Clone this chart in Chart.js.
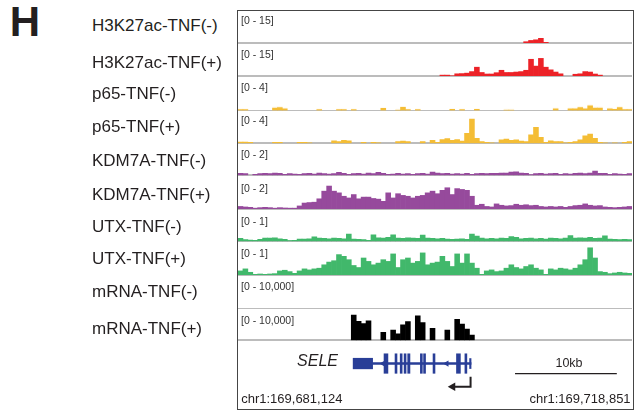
<!DOCTYPE html>
<html lang="en">
<head>
<meta charset="UTF-8">
<title>SELE locus tracks</title>
<script src="https://cdn.jsdelivr.net/npm/chart.js"></script>
<style>
  body { margin: 0; background: #fff; font-family: "Liberation Sans", Arial, Helvetica, sans-serif; }
  #fig { position: relative; width: 637px; height: 411px; overflow: hidden; }
  #fig div { position: absolute; white-space: nowrap; }
  .panel { left: 9.7px; top: -1.8px; font-size: 42px; line-height: 48px; font-weight: bold; color: #231f20; }
  .name { left: 92px; font-size: 17px; line-height: 20px; color: #231f20; }
  .box { left: 236.5px; top: 10.25px; width: 397px; height: 399.5px; box-sizing: border-box; border: 1.5px solid #454545; }
  .track { left: 238px; width: 394px; }
  .range { left: 241px; font-size: 10.5px; line-height: 12px; color: #333; }
  .gene { left: 238px; top: 342px; width: 394px; height: 66px; }
  .sele { right: 299px; top: 351.4px; font-size: 16px; line-height: 20px; font-style: italic; color: #231f20; }
  .kb { left: 539px; width: 60px; top: 354.6px; text-align: center; font-size: 12.5px; line-height: 16px; color: #231f20; }
  .chr { top: 391.1px; font-size: 13px; line-height: 16px; color: #231f20; }
</style>
</head>
<body>
<div id="fig">
  <div class="panel">H</div>
  <div class="box"></div>
</div>

<script>
  // track names and their data ranges
  const TRACK_NAMES = ['H3K27ac-TNF(-)', 'H3K27ac-TNF(+)', 'p65-TNF(-)', 'p65-TNF(+)', 'KDM7A-TNF(-)',
                       'KDM7A-TNF(+)', 'UTX-TNF(-)', 'UTX-TNF(+)', 'mRNA-TNF(-)', 'mRNA-TNF(+)'];
  const TRACK_RANGES = ['[0 - 15]', '[0 - 15]', '[0 - 4]', '[0 - 4]', '[0 - 2]',
                        '[0 - 2]', '[0 - 1]', '[0 - 1]', '[0 - 10,000]', '[0 - 10,000]'];
  const TRACK_MAX = [15, 15, 4, 4, 2, 2, 1, 1, 10000, 10000];
  const TRACK_COLORS = ['#ec2227', '#ec2227', '#f4bd35', '#f4bd35', '#964a9c',
                        '#964a9c', '#41b86b', '#41b86b', '#000000', '#000000'];

  // signal per bin (80 equal bins across chr1:169,681,124-169,718,851)
  const H3K27AC_NEG = [0,0,0,0,0,0,0,0,0,0, 0,0,0,0,0,0,0,0,0,0, 0,0,0,0,0,0,0,0,0,0, 0,0,0,0,0,0,0,0,0,0,
    0,0,0,0,0,0,0,0,0,0, 0,0,0,0,0,0,0,0,0.6,1.2, 1.5,2.2,0.3,0,0,0,0,0,0,0, 0,0,0,0,0,0,0,0,0,0];
  const H3K27AC_POS = [0,0,0,0,0,0,0,0,0,0, 0,0,0,0,0,0,0,0,0,0, 0,0,0,0,0,0,0,0,0,0, 0,0,0,0,0,0,0,0,0,0,
    0,0.4,0.4,0.1,1.0,1.1,1.3,2.0,4.0,1.6, 0.9,0.9,1.5,2.6,1.6,1.6,1.8,2.0,2.6,7.6,
    4.5,8.0,4.0,2.8,1.8,1.0,0,0,0.8,1.0, 2.0,1.8,0.9,0.4,0,0,0,0,0,0];
  const P65_NEG = [0.1,0.1,0,0,0,0,0,0.3,0.35,0.2, 0,0,0,0,0,0,0.1,0,0,0,
    0.12,0.1,0,0.1,0,0,0,0,0,0.25, 0,0,0.05,0.38,0.1,0,0.1,0,0,0,
    0,0,0,0.15,0,0.1,0,0,0.15,0, 0,0,0,0,0.05,0.05,0,0,0,0,
    0,0,0,0,0.2,0,0,0.2,0.2,0.35, 0.2,0.55,0.3,0.3,0,0.2,0.15,0.35,0.1,0.1];
  const P65_POS = [0.15,0.15,0.1,0,0,0,0,0.1,0.1,0, 0,0,0.1,0.1,0.05,0,0,0,0,0.3,
    0.2,0.35,0.3,0,0,0.1,0,0.1,0.05,0, 0,0,0.2,0.25,0.2,0,0,0.2,0,0.35,
    0.1,0.45,0.55,0.35,0.45,0.25,1.2,2.9,0.6,0.2, 0.1,0.05,0,0.4,0.5,0.35,0.4,0.25,0.2,1.0,
    1.9,0.7,0.1,0.3,0.2,0.2,0.05,0.1,0.2,0.4, 0.9,1.1,0.6,0.1,0.05,0,0.05,0,0.1,0.2];
  const KDM7A_NEG = [0.12,0.1,0,0.06,0.1,0.12,0.1,0.14,0.12,0.06, 0.1,0.08,0.06,0.1,0.12,0.08,0.14,0.1,0.08,0.1,
    0.18,0.12,0.06,0.1,0.12,0.08,0.14,0.1,0.18,0.12, 0.06,0.08,0.12,0.08,0.1,0.06,0.1,0.12,0.08,0.2,
    0.14,0.1,0.12,0.08,0.1,0.08,0.12,0.06,0.1,0.12, 0.1,0.12,0.12,0.14,0.14,0.2,0.22,0.14,0.12,0.04,
    0.1,0.12,0.08,0.1,0.12,0.06,0.1,0.08,0.12,0.14, 0.1,0.14,0.26,0.12,0.12,0.06,0.1,0.08,0.06,0.1];
  const KDM7A_POS = [0.15,0.12,0.1,0.05,0.08,0.1,0.08,0.05,0.08,0.06, 0.05,0.05,0.18,0.35,0.38,0.4,0.6,1.05,1.35,1.05,
    0.95,0.75,0.65,0.85,0.6,0.7,0.7,0.62,0.58,0.45, 0.95,0.65,0.9,0.8,0.75,0.65,0.75,0.8,0.95,1.05,
    0.9,1.1,1.25,0.85,1.2,1.15,1.1,0.75,0.22,0.28, 0.15,0.12,0.3,0.22,0.18,0.2,0.28,0.22,0.25,0.2,
    0.22,0.15,0.12,0.15,0.12,0.15,0.1,0.15,0.2,0.22, 0.3,0.22,0.18,0.2,0.12,0.1,0.08,0.1,0.12,0.15];
  const UTX_NEG = [0.09,0.05,0.04,0.03,0.06,0.1,0.1,0.11,0.08,0.06, 0.02,0.03,0.07,0.07,0.08,0.14,0.1,0.09,0.08,0.1,
    0.09,0.08,0.22,0.07,0.06,0.05,0.03,0.2,0.11,0.1, 0.12,0.2,0.1,0.09,0.11,0.1,0.09,0.19,0.1,0.09,
    0.08,0.09,0.07,0.06,0.07,0.08,0.06,0.22,0.16,0.1, 0.08,0.09,0.08,0.1,0.09,0.15,0.12,0.08,0.09,0.1,
    0.08,0.09,0.07,0.1,0.09,0.08,0.1,0.18,0.1,0.11, 0.1,0.12,0.09,0.1,0.17,0.07,0.06,0.05,0.06,0.05];
  const UTX_POS = [0.12,0.18,0.08,0.02,0.03,0.02,0.03,0.04,0.12,0.14, 0.1,0.05,0.12,0.18,0.15,0.18,0.2,0.3,0.38,0.42,
    0.6,0.55,0.45,0.28,0.22,0.5,0.4,0.3,0.35,0.45, 0.4,0.62,0.22,0.45,0.5,0.35,0.4,0.65,0.3,0.35,
    0.38,0.55,0.4,0.25,0.62,0.35,0.62,0.35,0.2,0.02, 0.12,0.15,0.1,0.12,0.2,0.3,0.22,0.18,0.25,0.3,
    0.2,0.15,0.02,0.18,0.15,0.2,0.18,0.15,0.2,0.3, 0.45,0.8,0.5,0.1,0.08,0.04,0.06,0.08,0.06,0.05];
  const MRNA_NEG = [0,0,0,0,0,0,0,0,0,0, 0,0,0,0,0,0,0,0,0,0, 0,0,0,0,0,0,0,0,0,0, 0,0,0,0,0,0,0,0,0,0,
    0,0,0,0,0,0,0,0,0,0, 0,0,0,0,0,0,0,0,0,0, 0,0,0,0,0,0,0,0,0,0, 0,0,0,0,0,0,0,0,0,0];
  const MRNA_POS = [0,0,0,0,0,0,0,0,0,0, 0,0,0,0,0,0,0,0,0,0,
    0,0,0,7800,5900,5200,6000,0,0,2500, 0,3200,2000,4800,5800,0,7600,5500,0,3700,
    0,0,3200,0,6500,5000,3500,1600,0,0, 0,0,0,0,0,0,0,0,0,0,
    0,0,0,0,0,0,0,0,0,0, 0,0,0,0,0,0,0,0,0,0];
  const TRACK_VALUES = [H3K27AC_NEG, H3K27AC_POS, P65_NEG, P65_POS, KDM7A_NEG,
                        KDM7A_POS, UTX_NEG, UTX_POS, MRNA_NEG, MRNA_POS];

  // SELE gene model, genomic coordinates
  const REGION_START = 169681124, REGION_END = 169718851;
  const UTR_BLOCK = [169691944, 169693859];
  const GENE_SPAN = [169693859, 169703530];
  const EXONS = [[169694979, 169695362], [169696061, 169696253], [169696568, 169696760], [169696952, 169697143],
                 [169697306, 169697526], [169698551, 169698742], [169698866, 169699058], [169699795, 169699987],
                 [169702098, 169702481], [169702926, 169703118]];
  const LAST_EXON = [169703386, 169703530];
  const STRAND_MARKS = [169694893, 169701136];
  const TSS = 169703482, ARROW_TIP = 169701730;
  const SCALE_BAR = [169707850, 169717850];

  // layout (pixels)
  const SEPARATORS = [11, 43, 76, 109.5, 142.7, 175, 209, 241.3, 275.3, 308, 340.3];
  const NAME_MIDS = [26, 63, 94, 127, 160.5, 195, 226.7, 259, 292.3, 329];
  const RANGE_MIDS = [20.5, 54.5, 87.3, 120, 154.5, 188, 221, 253, 286, 320];

  const fig = document.getElementById('fig');
  const add = (cls, text, css) => {
    const d = document.createElement('div');
    d.className = cls;
    if (text) d.textContent = text;
    Object.assign(d.style, css || {});
    fig.appendChild(d);
    return d;
  };
  const quiet = { legend: { display: false }, tooltip: { enabled: false } };

  TRACK_NAMES.forEach((name, k) => {
    add('name', name, { top: (NAME_MIDS[k] - 10) + 'px' });
    const top = SEPARATORS[k];
    const holder = add('track', '', { top: top + 'px', height: (SEPARATORS[k + 1] - top + 1) + 'px' });
    const canvas = document.createElement('canvas');
    holder.appendChild(canvas);
    add('range', TRACK_RANGES[k], { top: (RANGE_MIDS[k] - 6.1) + 'px' });

    new Chart(canvas, {
      type: 'bar',
      data: {
        labels: TRACK_VALUES[k].map((_, i) => i),
        datasets: [{
          // empty bins are left out so no sliver is drawn on the baseline
          data: TRACK_VALUES[k].map(v => v > 0 ? v : null),
          backgroundColor: TRACK_COLORS[k],
          borderWidth: 0,
          barPercentage: 1,
          categoryPercentage: 1
        }]
      },
      options: {
        responsive: true, maintainAspectRatio: false, animation: false, events: [],
        layout: { padding: { bottom: 1 } },
        plugins: quiet,
        scales: {
          x: { ticks: { display: false }, grid: { display: false, drawTicks: false },
               border: { color: '#bcbcbc', width: 2 } },
          y: { display: false, min: 0, max: TRACK_MAX[k] }
        }
      }
    });
  });

  // gene model, scale bar and coordinates
  const GENE_COLOR = '#293e97', INK = '#231f20';
  const geneHolder = add('gene');
  const geneCanvas = document.createElement('canvas');
  geneHolder.appendChild(geneCanvas);
  add('sele', 'SELE');
  add('kb', '10kb');
  add('chr', 'chr1:169,681,124', { left: '241.2px' });
  add('chr', 'chr1:169,718,851', { right: '6.4px' });

  const bars = (rows, thickness) => ({
    data: rows.map(r => ({ x: r, y: 0 })),
    backgroundColor: GENE_COLOR, borderWidth: 0, barThickness: thickness, grouped: false
  });

  new Chart(geneCanvas, {
    type: 'bar',
    data: {
      datasets: [
        bars([GENE_SPAN], 1.8),
        bars([UTR_BLOCK], 10.6),
        bars(EXONS, 19.5),
        bars([LAST_EXON], 10),
        { type: 'line', data: STRAND_MARKS.map(x => ({ x, y: 0 })), showLine: false,
          pointStyle: 'triangle', pointRadius: 3.6, pointRotation: -90,
          pointBackgroundColor: GENE_COLOR, pointBorderWidth: 0 },
        { type: 'line', data: [{ x: TSS, y: -1.03 }, { x: TSS, y: -1.82 }, { x: ARROW_TIP, y: -1.82 }],
          borderColor: INK, borderWidth: 2, pointRadius: 0, borderJoinStyle: 'miter', fill: false },
        { type: 'line', data: [{ x: ARROW_TIP, y: -1.82 }], showLine: false,
          pointStyle: 'triangle', pointRadius: 5, pointRotation: -90,
          pointBackgroundColor: INK, pointBorderWidth: 0 },
        { type: 'line', data: SCALE_BAR.map(x => ({ x, y: -0.79 })),
          borderColor: INK, borderWidth: 1.4, pointRadius: 0, fill: false }
      ]
    },
    options: {
      indexAxis: 'y',
      responsive: true, maintainAspectRatio: false, animation: false, events: [],
      layout: { padding: 0 },
      plugins: quiet,
      scales: {
        x: { type: 'linear', display: false, min: REGION_START, max: REGION_END },
        y: { type: 'linear', display: false, offset: false, min: -3.1, max: 1.3 }
      }
    }
  });
</script>
</body>
</html>
